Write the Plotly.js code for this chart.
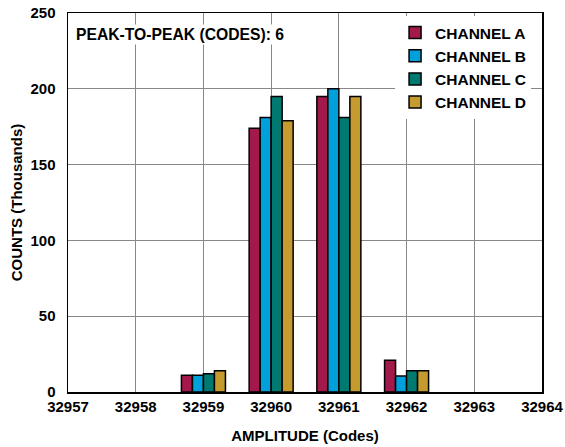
<!DOCTYPE html>
<html><head><meta charset="utf-8">
<script src="https://cdn.plot.ly/plotly-3.0.1.min.js"></script>
<style>html,body{margin:0;padding:0;background:#fff}#chart{width:565px;height:447px}</style>
</head><body><div id="chart"></div>
<script>
const codes = [32959, 32960, 32961, 32962];
const channelA = [11, 174, 195, 21];
const channelB = [11, 181, 200, 10.5];
const channelC = [12, 195, 181, 14];
const channelD = [14, 179, 195, 14];
const names = ['CHANNEL A', 'CHANNEL B', 'CHANNEL C', 'CHANNEL D'];
const colors = ['#A3194B', '#00A0DC', '#007A70', '#C59B2F'];
const series = [channelA, channelB, channelC, channelD];
const xTicks = [32957, 32958, 32959, 32960, 32961, 32962, 32963, 32964];

const fam = 'Liberation Sans, Arial, sans-serif';
const font = {family: fam, size: 15, color: '#000', weight: 'bold'};
const traces = series.map((vals, i) => ({
  type: 'bar', x: codes, y: vals, name: names[i],
  marker: {color: colors[i], line: {color: '#000', width: 1.5}}
}));

const layout = {
  width: 565, height: 447,
  margin: {l: 68, r: 23, t: 13, b: 55},
  paper_bgcolor: '#fff', plot_bgcolor: '#fff',
  barmode: 'group', bargap: 0.35, bargroupgap: 0,
  font: font,
  showlegend: true,
  legend: {x: 0.69, y: 0.992, xanchor: 'left', yanchor: 'top', bgcolor: '#fff',
           font: {family: fam, size: 15.5, color: '#000', weight: 'bold'},
           itemwidth: 30, tracegroupgap: 0},
  xaxis: {range: [32957, 32964], tickvals: xTicks, ticktext: xTicks.map(String),
          showgrid: true, gridcolor: '#888', gridwidth: 1,
          showline: true, mirror: true, linecolor: '#000', linewidth: 1.5,
          ticks: '', tickfont: font, zeroline: false,
          title: {text: 'AMPLITUDE (Codes)', font: font, standoff: 17}},
  yaxis: {range: [0, 250], dtick: 50, showgrid: true, gridcolor: '#888', gridwidth: 1,
          showline: true, mirror: true, linecolor: '#000', linewidth: 1.5,
          ticks: '', tickfont: font, zeroline: false, ticklabelstandoff: 8,
          title: {text: 'COUNTS (Thousands)', font: font, standoff: 4}},
  annotations: [{xref: 'paper', yref: 'paper', x: 0.012, y: 0.942, xanchor: 'left', yanchor: 'middle',
                 text: 'PEAK-TO-PEAK (CODES): 6', showarrow: false, bgcolor: '#fff',
                 font: {family: fam, size: 15.7, color: '#000', weight: 'bold'}}]
};
Plotly.newPlot('chart', traces, layout, {displayModeBar: false, staticPlot: true});
</script></body></html>
